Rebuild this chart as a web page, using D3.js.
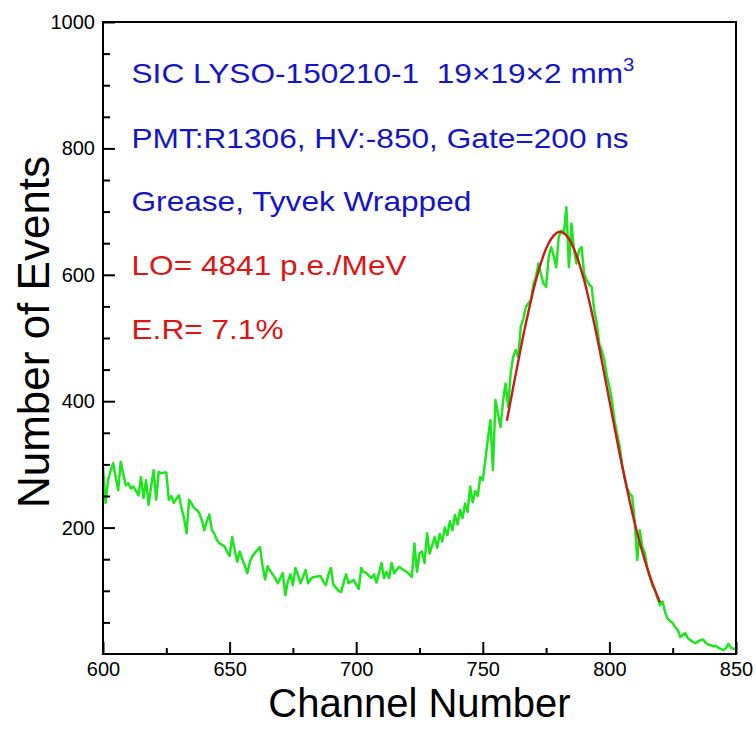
<!DOCTYPE html>
<html><head><meta charset="utf-8">
<script src="https://cdn.jsdelivr.net/npm/d3@7"></script>
<style>
html,body{margin:0;padding:0;background:#fff;}
svg{display:block;font-family:"Liberation Sans",Arial,Helvetica,sans-serif;}
</style></head>
<body>
<svg id="chart" width="756" height="742"></svg>
<script>
// ---- data ----
const channelStart = 600;
const counts = [
296,239,275,290,302,280,259,304,285,267, 270,262,265,258,251,280,247,275,236,265,
291,244,288,286,287,287,244,250,239,246, 251,231,215,191,244,238,231,228,223,212,
196,210,221,196,190,180,175,173,170,162, 155,185,165,146,162,150,140,128,145,155,
160,165,169,140,118,139,132,126,120,112, 120,128,93,115,126,109,136,125,112,122,
133,112,118,122,122,123,123,115,109,125, 136,109,105,100,98,112,126,112,115,117,
110,103,136,130,128,124,120,126,113,128, 144,120,130,120,144,128,133,138,135,132,
130,126,122,175,130,159,162,144,191,159, 172,185,168,190,178,200,188,210,196,220,
205,228,215,238,225,265,240,258,250,280, 275,307,340,370,291,402,380,359,400,428,
391,444,470,481,470,518,530,549,555,560, 585,597,618,600,586,581,628,644,630,612,
660,670,665,707,612,681,640,618,639,644, 602,591,585,581,544,523,491,480,465,440,
423,402,370,349,330,300,280,262,254,249, 210,149,196,170,159,135,122,108,101,88,
77,83,66,56,52,49,42,38,27,30, 33,25,22,19,17,20,22,23,18,15,
14,12,13,10,8,6,9,16,10,8, 9
];
const fitChannels = [759.5,762,764,766,768,770,772,774,776,778,780,782,784,786,788,790,792,794,796,798,800,802,804,806,808,810,812,814,816,818,820];
const fitValues   = [369,422,463,504,541,576,606,631,650,662,668,666,657,641,619,592,559,523,484,443,401,359,318,279,242,207,176,148,123,101,82];
const xMajorTicks = [600,650,700,750,800,850];
const xMinorTicks = [625,675,725,775,825];
const yMajorTicks = [200,400,600,800,1000];
const yMinorTicks = [50,100,150,250,300,350,450,500,550,650,700,750,850,900,950];
const infoLines = [
  {text:"SIC LYSO-150210-1  19\u00D719\u00D72 mm", sup:"3", color:"#1515c8"},
  {text:"PMT:R1306, HV:-850, Gate=200 ns", color:"#1515c8"},
  {text:"Grease, Tyvek Wrapped", color:"#1515c8"},
  {text:"LO= 4841 p.e./MeV", color:"#dd1515"},
  {text:"E.R= 7.1%", color:"#dd1515"}
];
const xTitle = "Channel Number";
const yTitle = "Number of Events";

// ---- layout ----
const L = 103, R = 736, T = 22, B = 654;
const svg = d3.select("#chart");
const x = d3.scaleLinear().domain([600,850]).range([L,R]);
const y = d3.scaleLinear().domain([0,1000]).range([B,T]);

const green = counts.map((v,i)=>({c:channelStart+i, v}));
const fit = fitChannels.map((c,i)=>({c, v:fitValues[i]}));

// data lines
svg.append("path").datum(green)
  .attr("fill","none").attr("stroke","#1ee61e").attr("stroke-width",2.5)
  .attr("stroke-linejoin","round")
  .attr("d", d3.line().x(d=>x(d.c)).y(d=>y(d.v)));
svg.append("path").datum(fit)
  .attr("fill","none").attr("stroke","#cc1a1a").attr("stroke-width",2.4)
  .attr("d", d3.line().curve(d3.curveCatmullRom).x(d=>x(d.c)).y(d=>y(d.v)));

// axes
function styleAxis(g){
  g.select(".domain").remove();
  g.selectAll(".tick line").attr("stroke","#000").attr("stroke-width",2);
  g.selectAll(".tick text").attr("fill","#000").attr("font-size","20px")
   .attr("font-family","'Liberation Sans',Arial,sans-serif");
}
svg.append("g").attr("transform",`translate(0,${B})`)
  .call(d3.axisBottom(x).tickValues(xMajorTicks).tickSize(-12).tickSizeOuter(0).tickPadding(8).tickFormat(d3.format("d")))
  .call(styleAxis);
svg.append("g").attr("transform",`translate(0,${B})`)
  .call(d3.axisBottom(x).tickValues(xMinorTicks).tickSize(-6).tickSizeOuter(0).tickFormat(""))
  .call(styleAxis);
svg.append("g").attr("transform",`translate(${L},0)`)
  .call(d3.axisLeft(y).tickValues(yMajorTicks).tickSize(-12).tickSizeOuter(0).tickPadding(8).tickFormat(d3.format("d")))
  .call(styleAxis);
svg.append("g").attr("transform",`translate(${L},0)`)
  .call(d3.axisLeft(y).tickValues(yMinorTicks).tickSize(-7).tickSizeOuter(0).tickFormat(""))
  .call(styleAxis);

// frame
svg.append("rect").attr("x",L).attr("y",T).attr("width",R-L).attr("height",B-T)
  .attr("fill","none").attr("stroke","#000").attr("stroke-width",2);

// annotations
const baselines = [83,148,211,275,339];
infoLines.forEach((ln,i)=>{
  const g = svg.append("g").attr("transform",`translate(131.5,${baselines[i]}) scale(1.13,1)`);
  const t = g.append("text").attr("x",0).attr("y",0).attr("font-size","28px")
    .attr("fill",ln.color).style("white-space","pre");
  t.append("tspan").text(ln.text);
  if(ln.sup){ t.append("tspan").attr("dy",-12).attr("font-size","18px").text(ln.sup); }
});

// axis titles
svg.append("text").attr("x",(L+R)/2).attr("y",717).attr("text-anchor","middle")
  .attr("font-size","40px").attr("fill","#000").text(xTitle);
svg.append("text").attr("transform",`translate(49,332) rotate(-90)`).attr("text-anchor","middle")
  .attr("font-size","44px").attr("fill","#000").text(yTitle);
</script>
</body></html>
